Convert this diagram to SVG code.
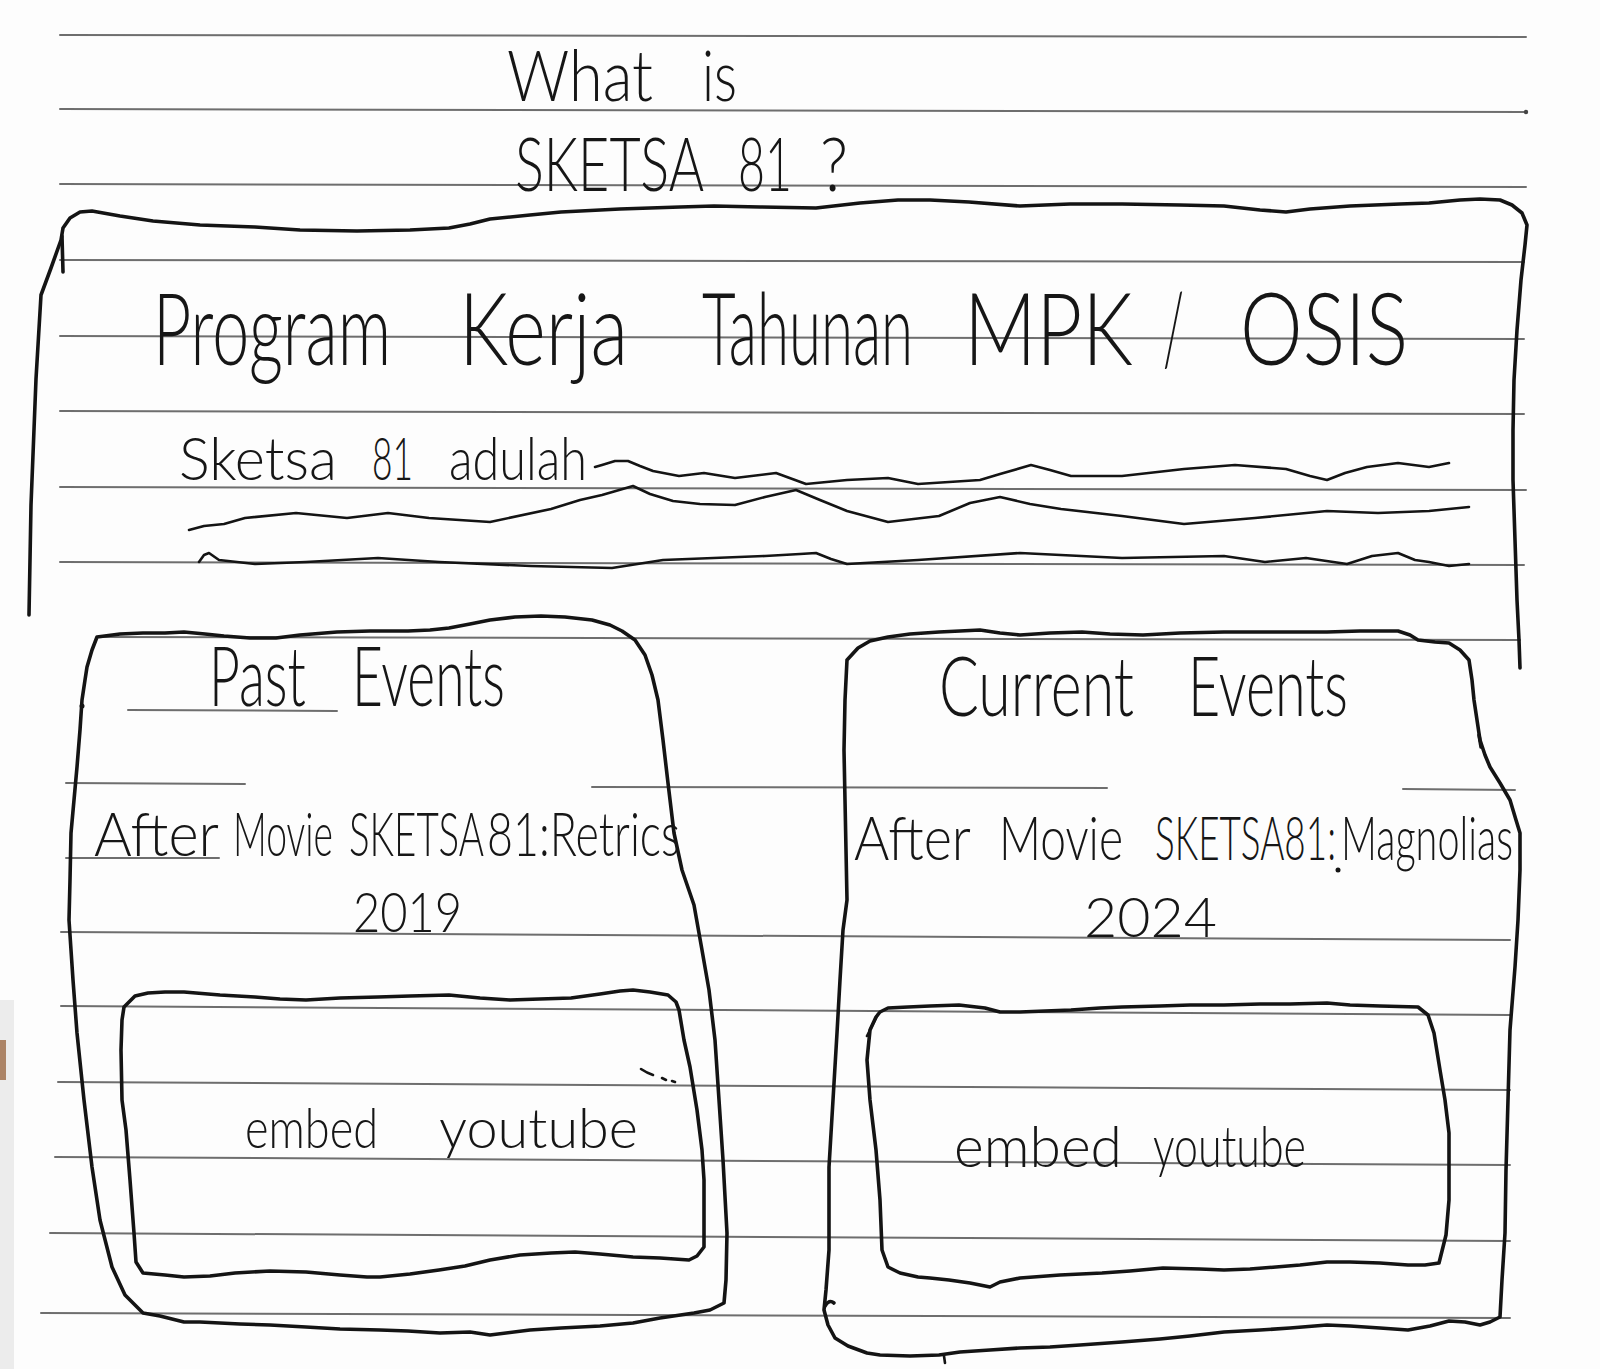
<svg xmlns="http://www.w3.org/2000/svg" width="1600" height="1369" viewBox="0 0 1600 1369">
  <style>
    .rule { stroke: #6e6e6e; stroke-width: 2; fill: none; stroke-linecap: round; }
    .ink { stroke: #141414; stroke-width: 3.6; fill: none; stroke-linecap: round; stroke-linejoin: round; }
    .inkthin { stroke: #141414; stroke-width: 2.6; fill: none; stroke-linecap: round; stroke-linejoin: round; }
    .hand { font-family: Lato, "Liberation Sans", sans-serif; font-weight: 300; fill: #161616; }
  </style>

  <!-- notebook page -->
  <g id="paper">
    <rect x="0" y="0" width="1600" height="1369" fill="#fdfdfd"/>
    <rect x="0" y="1000" width="14" height="369" fill="#ececec"/>
    <rect x="0" y="1040" width="6" height="40" fill="#9c6a45" opacity="0.8"/>
    <line class="rule" x1="60" y1="35" x2="1526" y2="37"/>
    <line class="rule" x1="60" y1="109" x2="1526" y2="112"/>
    <circle cx="1526" cy="112" r="2.2" fill="#444"/>
    <line class="rule" x1="60" y1="184" x2="1526" y2="187"/>
    <line class="rule" x1="60" y1="260" x2="1524" y2="262"/>
    <line class="rule" x1="60" y1="336" x2="1524" y2="339"/>
    <line class="rule" x1="60" y1="411" x2="1524" y2="414"/>
    <line class="rule" x1="60" y1="487" x2="1526" y2="490"/>
    <line class="rule" x1="60" y1="562" x2="1524" y2="565"/>
    <line class="rule" x1="97" y1="637" x2="1520" y2="640"/>
    <line class="rule" x1="128" y1="710" x2="337" y2="711"/>
    <line class="rule" x1="66" y1="783" x2="245" y2="784"/>
    <line class="rule" x1="592" y1="787" x2="1107" y2="788"/>
    <line class="rule" x1="1403" y1="789" x2="1515" y2="790"/>
    <line class="rule" x1="66" y1="858" x2="219" y2="858"/>
    <line class="rule" x1="61" y1="932" x2="1510" y2="940"/>
    <line class="rule" x1="61" y1="1006" x2="1510" y2="1015"/>
    <line class="rule" x1="58" y1="1082" x2="1510" y2="1090"/>
    <line class="rule" x1="55" y1="1157" x2="1510" y2="1165"/>
    <line class="rule" x1="50" y1="1233" x2="1510" y2="1241"/>
    <line class="rule" x1="41" y1="1313" x2="1510" y2="1318"/>
  </g>

  <!-- page heading (narrow hand lettering: squeezed horizontally) -->
  <g id="heading">
    <text class="hand" font-size="70" y="101" transform="scale(0.85,1)"><tspan x="596.5" textLength="171.8" lengthAdjust="spacingAndGlyphs">What</tspan> <tspan x="825.9" textLength="41.2" lengthAdjust="spacingAndGlyphs">is</tspan></text>
    <text class="hand" font-size="75" y="191" transform="scale(0.66,1)"><tspan x="780.3" textLength="286.4" lengthAdjust="spacingAndGlyphs">SKETSA</tspan> <tspan x="1118.2" textLength="81.8" lengthAdjust="spacingAndGlyphs">81</tspan> <tspan x="1242.4" textLength="42.4" lengthAdjust="spacingAndGlyphs">?</tspan></text>
  </g>

  <!-- about section -->
  <g id="about-box">
    <polyline class="ink" points="29,615 31,505 36,379 41,295 51,268 61,240 63,228 70,218 80,212 92,211 120,216 153,221 200,225 255,227 300,230 357,231 410,230 449,228 470,224 490,219 530,215 561,212 620,209 680,207 714,206 760,207 816,208 860,203 898,200 930,200 969,202 1020,206 1070,204 1122,204 1180,205 1224,206 1260,210 1286,212 1310,209 1350,206 1400,204 1429,203 1460,200 1480,199 1500,200 1512,205 1522,213 1527,225 1525,245 1521,280 1517,330 1514,380 1513,430 1513,480 1515,540 1517,600 1519,640 1520,668"/>
    <path class="ink" d="M62 236 L63 272"/>
    <text class="hand" font-size="100" y="365" transform="scale(0.68,1)"><tspan x="225" textLength="350" lengthAdjust="spacingAndGlyphs">Program</tspan> <tspan x="675" textLength="248.5" lengthAdjust="spacingAndGlyphs">Kerja</tspan> <tspan x="1032.4" textLength="310.3" lengthAdjust="spacingAndGlyphs">Tahunan</tspan> <tspan x="1417.6" textLength="248.5" lengthAdjust="spacingAndGlyphs">MPK</tspan> <tspan x="1710.3" textLength="30.9" lengthAdjust="spacingAndGlyphs">/</tspan> <tspan x="1823.5" textLength="247.1" lengthAdjust="spacingAndGlyphs">OSIS</tspan></text>
    <text class="hand" font-size="60" y="480" transform="scale(0.82,1)"><tspan x="218.3" textLength="192.7" lengthAdjust="spacingAndGlyphs">Sketsa</tspan> <tspan x="453.7" textLength="50" lengthAdjust="spacingAndGlyphs">81</tspan> <tspan x="547.6" textLength="168.3" lengthAdjust="spacingAndGlyphs">adulah</tspan></text>
    <!-- placeholder scribbles for the description -->
    <polyline class="inkthin" points="595,467 602,465 615,461 628,461 640,466 653,471 679,476 704,473 735,478 776,473 806,484 847,480 888,478 918,484 980,480 1000,474 1031,465 1050,470 1071,476 1122,476 1184,469 1235,465 1286,469 1310,476 1327,480 1345,473 1367,467 1398,463 1429,467 1449,463"/>
    <polyline class="inkthin" points="189,530 204,526 224,524 245,518 296,513 347,518 388,513 429,518 490,522 551,509 580,500 602,495 633,486 650,494 673,501 700,504 735,505 765,497 796,490 820,500 847,511 888,522 939,516 970,503 1000,497 1030,504 1061,509 1122,516 1184,524 1255,518 1327,511 1378,513 1429,511 1469,507"/>
    <polyline class="inkthin" points="199,562 204,555 209,553 219,560 255,564 306,562 378,558 439,562 531,566 612,568 663,560 765,556 800,554 816,553 831,559 847,564 918,560 1020,553 1122,558 1224,556 1265,562 1306,558 1347,564 1372,556 1398,553 1415,560 1429,562 1449,566 1469,564"/>
  </g>

  <!-- past events card -->
  <g id="past-events">
    <polygon class="ink" points="97,637 120,634 143,633 165,633 184,632 205,634 224,636 250,638 276,638 300,635 337,632 370,631 408,631 430,630 449,628 470,624 490,620 515,617 541,616 565,617 592,620 610,625 622,631 635,640 645,655 652,675 658,700 663,740 668,783 674,833 682,870 694,905 702,950 709,990 715,1040 719,1100 723,1160 727,1233 726,1280 724,1303 710,1310 694,1313 660,1318 633,1323 600,1326 561,1328 530,1330 490,1335 470,1332 440,1333 408,1331 380,1330 340,1329 306,1327 270,1325 240,1324 200,1322 184,1322 160,1316 143,1313 125,1295 112,1267 100,1220 92,1167 84,1100 77,1033 73,980 69,920 70,880 71,833 74,800 77,767 80,730 82,700 85,680 87,667 92,650"/>
    <circle cx="82" cy="706" r="2.5" fill="#141414"/>
    <text class="hand" font-size="82" y="706" transform="scale(0.65,1)"><tspan x="321.5" textLength="149.2" lengthAdjust="spacingAndGlyphs">Past</tspan> <tspan x="541.5" textLength="235.4" lengthAdjust="spacingAndGlyphs">Events</tspan></text>
    <text class="hand" font-size="62" y="856" transform="scale(0.62,1)"><tspan x="151.6" textLength="201.6" lengthAdjust="spacingAndGlyphs">After</tspan> <tspan x="375.8" textLength="161.3" lengthAdjust="spacingAndGlyphs">Movie</tspan> <tspan x="562.9" textLength="217.7" lengthAdjust="spacingAndGlyphs">SKETSA</tspan> <tspan x="785.5" textLength="311.3" lengthAdjust="spacingAndGlyphs">81:Retrics</tspan></text>
    <text class="hand" font-size="56" x="420.2" y="932" transform="scale(0.84,1)" textLength="129.8" lengthAdjust="spacingAndGlyphs">2019</text>
    <g id="past-video">
      <polygon class="ink" points="124,1007 135,996 148,993 165,992 184,992 220,995 255,997 280,999 306,1000 340,998 378,997 410,996 449,995 480,998 510,1000 540,999 571,998 600,994 620,991 633,990 650,992 668,995 676,1002 679,1010 684,1040 690,1067 697,1110 702,1150 704,1180 704,1215 704,1247 697,1256 689,1260 660,1258 633,1257 600,1254 575,1252 551,1253 520,1255 490,1260 465,1266 439,1270 410,1274 380,1277 367,1277 340,1275 306,1272 270,1271 235,1273 210,1276 184,1277 165,1275 143,1273 136,1262 134,1233 130,1180 126,1130 122,1100 121,1050 122,1020"/>
      <path class="inkthin" d="M641 1069 q6 4 12 6 M662 1078 l4 2 M672 1081 l3 1"/>
      <text class="hand" font-size="55" y="1148" transform="scale(0.9,1)"><tspan x="272.2" textLength="147.8" lengthAdjust="spacingAndGlyphs">embed</tspan> <tspan x="487.8" textLength="221.1" lengthAdjust="spacingAndGlyphs">youtube</tspan></text>
    </g>
  </g>

  <!-- current events card -->
  <g id="current-events">
    <polyline class="ink" points="847,660 858,648 870,641 888,637 910,634 939,632 960,631 980,630 1000,633 1020,635 1050,633 1082,632 1110,634 1143,635 1180,633 1224,632 1270,632 1327,632 1360,631 1398,631 1410,635 1418,640 1435,642 1449,643 1460,650 1469,660 1472,680 1474,700 1477,720 1480,740 1485,755 1490,767 1500,783 1510,800 1516,820 1520,833 1520,870 1518,920 1515,967 1510,1030 1508,1100 1506,1170 1505,1233 1502,1280 1500,1317 1490,1322 1480,1325 1465,1322 1449,1321 1430,1326 1408,1330 1380,1328 1350,1326 1327,1325 1290,1328 1260,1330 1224,1332 1190,1336 1160,1339 1122,1342 1080,1345 1050,1347 1020,1348 990,1350 960,1352 939,1355 910,1356 880,1355 867,1353 848,1346 835,1338 828,1325 824,1310 826,1290 829,1250 829,1167 833,1100 837,1033 840,980 843,930 847,900 846,850 845,800 844,750 845,700 847,660"/>
    <path class="ink" d="M825 1306 q4 -7 9 -3"/>
    <path class="inkthin" d="M944 1356 l1 7"/>
    <path class="ink" d="M1479 735 l2 12"/>
    <circle cx="1338" cy="870" r="2.5" fill="#141414"/>
    <text class="hand" font-size="82" y="716" transform="scale(0.7,1)"><tspan x="1341.4" textLength="278.6" lengthAdjust="spacingAndGlyphs">Current</tspan> <tspan x="1697.1" textLength="228.6" lengthAdjust="spacingAndGlyphs">Events</tspan></text>
    <text class="hand" font-size="62" y="860" transform="scale(0.6,1)"><tspan x="1423.3" textLength="195" lengthAdjust="spacingAndGlyphs">After</tspan> <tspan x="1665" textLength="206.7" lengthAdjust="spacingAndGlyphs">Movie</tspan> <tspan x="1925" textLength="301.7" lengthAdjust="spacingAndGlyphs">SKETSA81:</tspan><tspan x="2235" textLength="286.7" lengthAdjust="spacingAndGlyphs">Magnolias</tspan></text>
    <text class="hand" font-size="56" x="1084" y="937" textLength="133" lengthAdjust="spacingAndGlyphs">2024</text>
    <g id="current-video">
      <polygon class="ink" points="876,1017 880,1012 888,1008 908,1007 930,1006 959,1005 985,1008 1000,1012 1020,1012 1045,1011 1071,1010 1100,1008 1122,1007 1160,1006 1190,1005 1224,1005 1260,1004 1290,1004 1327,1003 1350,1005 1380,1006 1418,1007 1428,1015 1434,1033 1440,1070 1445,1100 1449,1133 1449,1170 1449,1200 1446,1235 1441,1255 1439,1263 1425,1265 1408,1265 1380,1263 1350,1262 1327,1262 1300,1265 1276,1267 1250,1269 1224,1270 1200,1269 1163,1268 1130,1271 1102,1273 1060,1275 1020,1278 1000,1282 990,1287 970,1283 949,1280 930,1278 918,1277 900,1273 888,1267 882,1250 880,1200 876,1150 870,1100 867,1060 870,1030"/>
      <path class="inkthin" d="M867 1036 L878 1014"/>
      <text class="hand" font-size="58" y="1167" transform="scale(0.85,1)"><tspan x="1122.4" textLength="197.6" lengthAdjust="spacingAndGlyphs">embed</tspan> <tspan x="1356.5" textLength="180" lengthAdjust="spacingAndGlyphs">youtube</tspan></text>
    </g>
  </g>

  <!-- no arrows or links between the cards -->
  <g id="connectors"/>
</svg>
